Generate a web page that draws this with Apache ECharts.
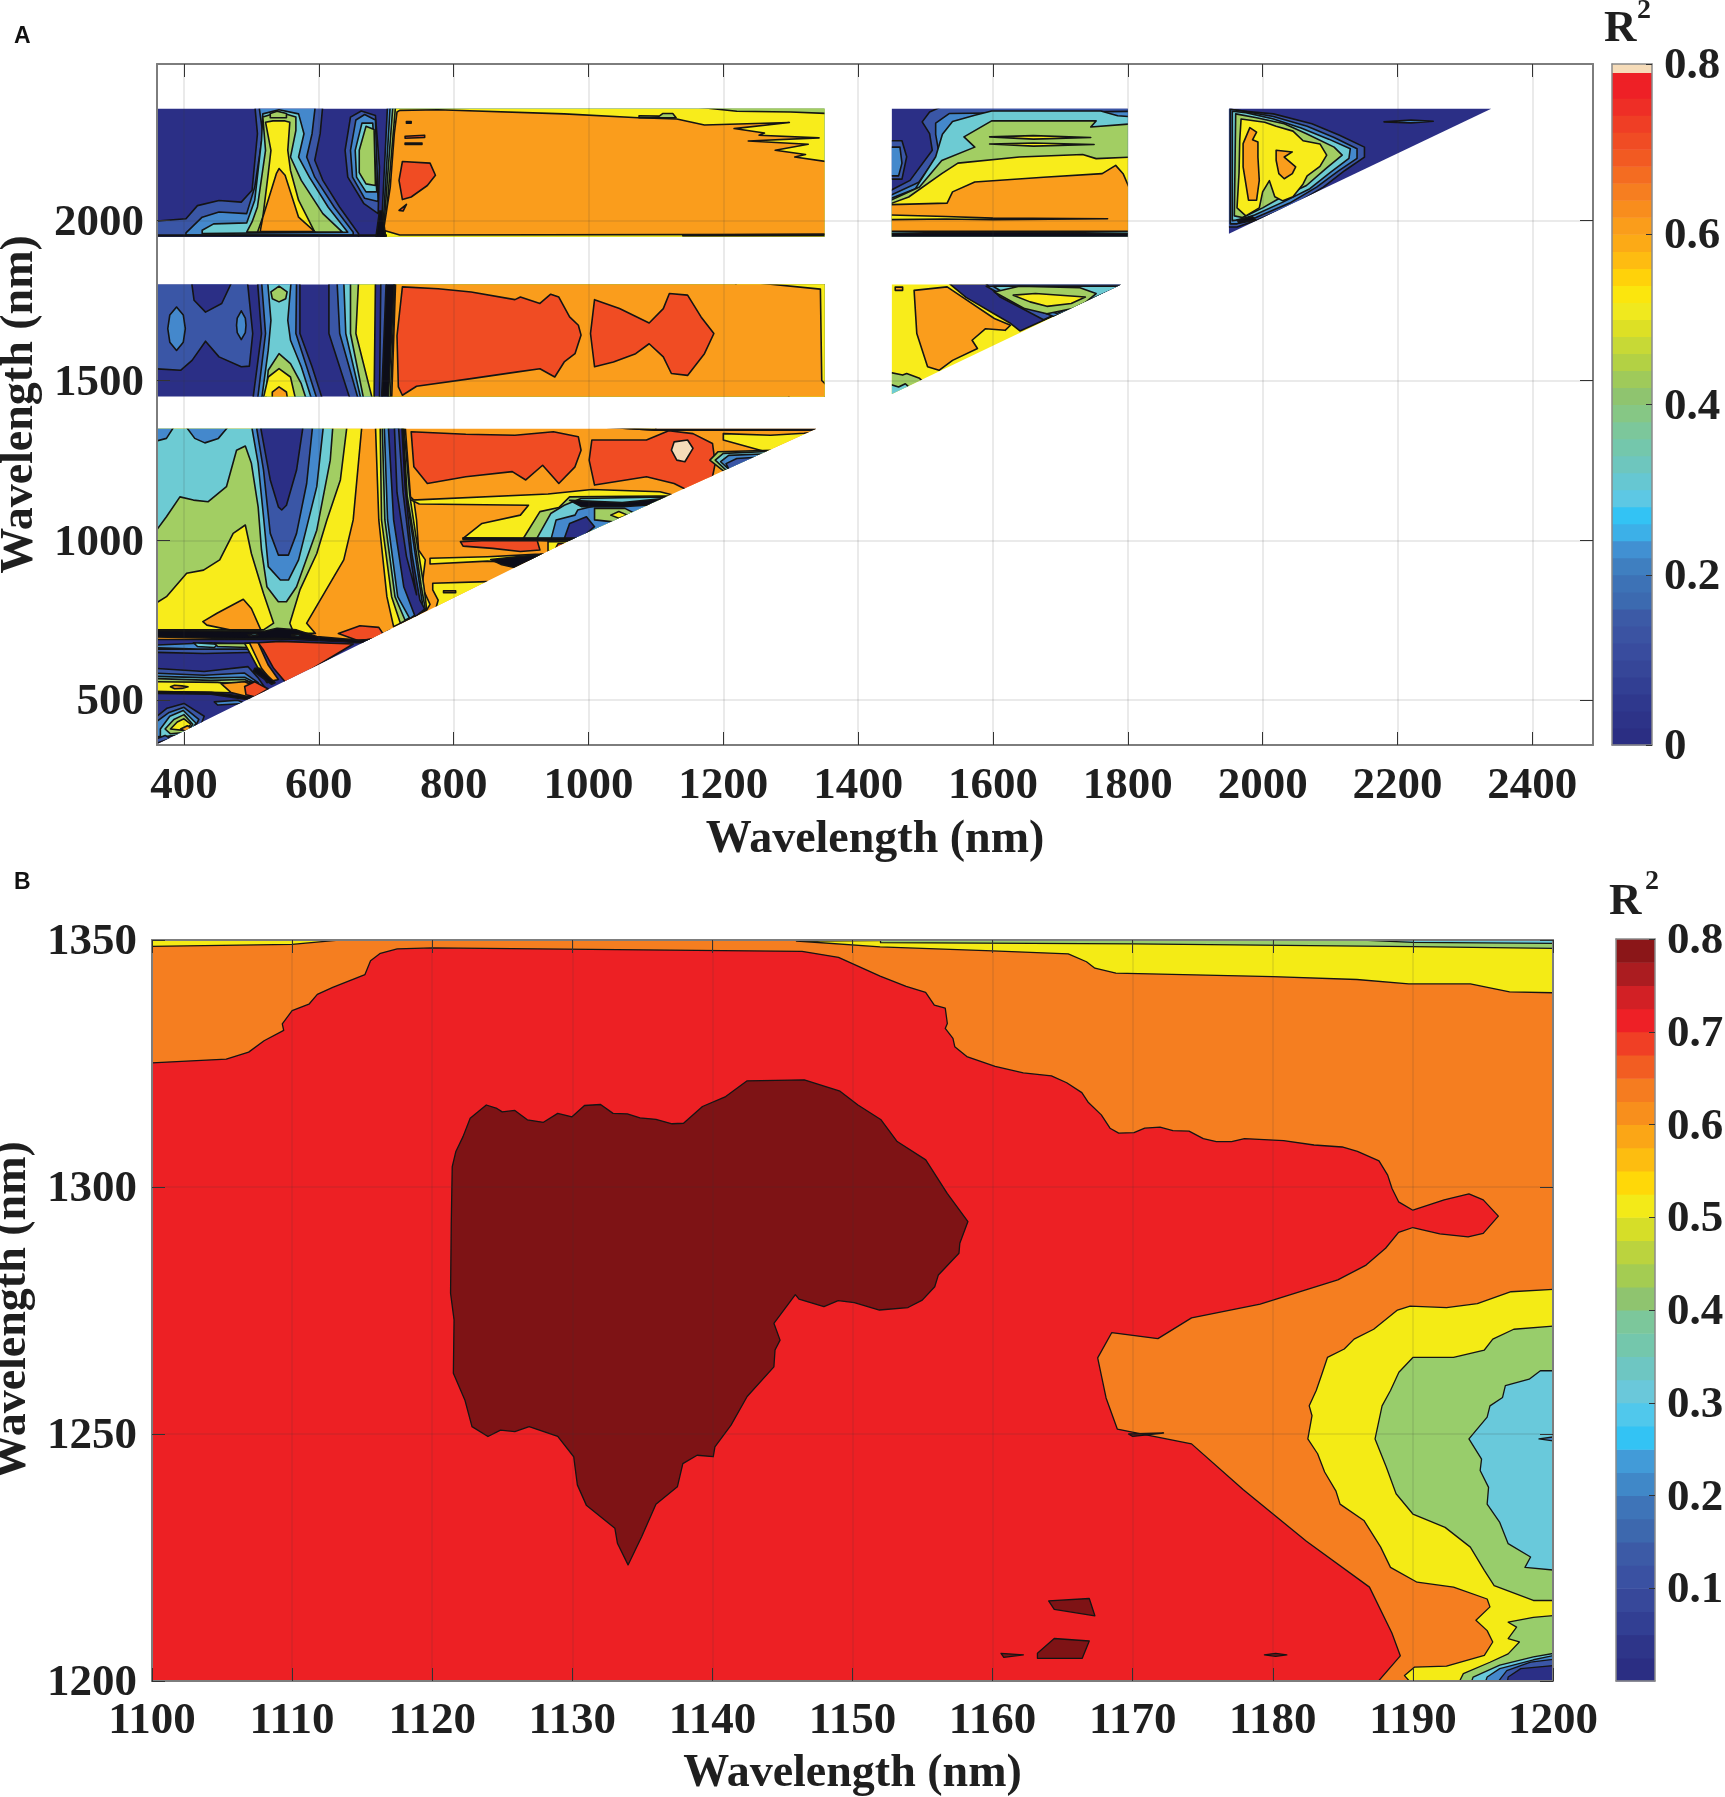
<!DOCTYPE html>
<html>
<head>
<meta charset="UTF-8">
<title>R2 contour maps</title>
<script src="https://cdn.jsdelivr.net/npm/echarts@6/dist/echarts.min.js"></script>
<style>html,body{margin:0;padding:0;background:#fff}</style>
</head>
<body>
<div id="chart" style="width:1725px;height:1797px;"></div>
<script>
// axis ticks
var xTicksA = [400,600,800,1000,1200,1400,1600,1800,2000,2200,2400];
var yTicksA = [500,1000,1500,2000];
var xTicksB = [1100,1110,1120,1130,1140,1150,1160,1170,1180,1190,1200];
var yTicksB = [1200,1250,1300,1350];
var barTicksA = [0,0.2,0.4,0.6,0.8];
var barTicksB = [0.1,0.2,0.3,0.4,0.5,0.6,0.7,0.8];

// colour bars: band edges
var barEdgesA = [0,0.02,0.04,0.06,0.08,0.1,0.12,0.14,0.16,0.18,0.2,0.22,0.24,0.26,0.28,0.3,0.32,0.34,0.36,0.38,0.4,0.42,0.44,0.46,0.48,0.5,0.52,0.54,0.56,0.58,0.6,0.62,0.64,0.66,0.68,0.7,0.72,0.74,0.76,0.78,0.79,0.8];
var barEdgesB = [0,0.025,0.05,0.075,0.1,0.125,0.15,0.175,0.2,0.225,0.25,0.275,0.3,0.325,0.35,0.375,0.4,0.425,0.45,0.475,0.5,0.525,0.55,0.575,0.6,0.625,0.65,0.675,0.7,0.725,0.75,0.775,0.8];
var barColorsA = ['#2B2E83','#2D3388','#2F388D','#323F93','#364698','#394C9E','#3B53A2','#3C5AA6','#3C6AB0','#3D72B6','#3F7FC0','#4190D2','#3CB0E8','#33C3F4','#5DC8E4','#66C7D2','#6EC6BE','#74C7AC','#7CC79B','#86C785','#8FC46F','#9FCA5A','#B3D144','#C7D936','#DDE025','#F0E91E','#FBE60D','#FFD20A','#FEBC11','#FCAA16','#FA9D1B','#F88D1D','#F67E20','#F46C21','#F25A22','#F04C24','#EF3E25','#EE2E26','#EE2026','#EE2026','#F6DCB9'];
var barColorsB = ['#2B2E83','#2E3589','#323F93','#37489A','#3A51A2','#3C5AA6','#3D68AE','#3E74B8','#4088C8','#429BD8','#33C3F4','#50C8EC','#6AC8DA','#6EC6C2','#74C7AC','#7CC79B','#8FC46F','#A4CC52','#BBD33E','#D6DE28','#F3EA18','#FFD808','#FDBD10','#FBA616','#F88F1C','#F57C20','#F25D22','#F03F25','#EE2026','#D22025','#AB1C20','#8B1618'];

// filled contour levels of R2
var fillLevels = [0,0.05,0.13,0.2,0.3,0.4,0.5,0.6,0.7,0.8];
var fillColorsA = ['#0D0D18','#2B2F86','#3A56A6','#4488CC','#6DCBD3','#A2CE63','#F8EC1B','#FA9D1C','#F04C23','#F6DCB9'];
var fillColorsB = ['#0D0D18','#2B2F86','#3A56A6','#4488CC','#69C9DB','#98CD6B','#F4EB15','#F57E20','#ED2024','#7E1315'];

// panel A, x 360-1350, y 1950-2350
var contourTopLeft = [
 [0.05,[[360,1950],[1350,1950],[1350,2350],[360,2350]]],
 [0.13,[[360,1998],[403,2006],[420,2047],[452,2063],[485,2058],[501,2095],[509,2272],[505,2350],[606,2350],[602,2272],[594,2189],[606,2126],[631,2042],[659,1959],[659,1950],[360,1950]]],
 [0.2,[[403,1962],[427,2011],[452,2027],[493,2022],[505,2105],[517,2272],[511,2350],[595,2350],[590,2272],[582,2199],[594,2136],[623,2042],[651,1964],[651,1955],[403,1955]]],
 [0.3,[[427,1970],[444,1990],[493,1993],[505,2064],[515,2251],[517,2334],[541,2347],[570,2334],[578,2272],[570,2199],[586,2136],[614,2042],[643,1964],[427,1960]]],
 [0.4,[[493,1964],[501,1996],[509,2043],[521,2220],[517,2324],[541,2340],[566,2324],[566,2282],[558,2199],[574,2126],[606,2022],[635,1964]]],
 [0.5,[[509,1964],[517,2011],[525,2147],[529,2220],[521,2308],[532,2312],[550,2312],[557,2308],[554,2220],[558,2157],[570,2064],[594,1964]]],
 [0.6,[[513,1966],[517,2011],[537,2147],[541,2163],[550,2142],[570,2011],[594,1966]]],
 [0.4,[[528,2335],[538,2342],[552,2335],[552,2322],[528,2322]]],
 [0.13,[[639,2220],[647,2324],[663,2343],[684,2329],[690,2168],[688,2022],[667,2053],[643,2136]]],
 [0.2,[[647,2220],[655,2315],[668,2332],[684,2315],[688,2060],[668,2070],[650,2136]]],
 [0.3,[[654,2220],[664,2305],[680,2305],[686,2090],[670,2090],[656,2136]]],
 [0.4,[[660,2220],[670,2295],[682,2285],[684,2110],[670,2115],[660,2150]]],
 [0.2,[[702,2350],[692,1950],[1350,1950],[1350,2350]]],
 [0.3,[[706,2350],[694,1950],[1350,1950],[1350,2350]]],
 [0.4,[[710,2350],[695,1950],[1350,1950],[1350,2350]]],
 [0.5,[[714,2350],[697,1950],[1350,1950],[1350,2350]]],
 [0.4,[[1130,2350],[1220,2342],[1300,2340],[1350,2335],[1350,2350]]],
 [0.6,[[720,2345],[777,2347],[964,2334],[1074,2322],[1131,2318],[1172,2299],[1298,2307],[1216,2288],[1261,2274],[1253,2267],[1342,2259],[1237,2249],[1326,2239],[1277,2220],[1322,2207],[1306,2199],[1350,2184],[1350,1957],[720,1955],[696,1970],[706,2105],[712,2272],[716,2340]]],
 [0.4,[[1075,2328],[1105,2327],[1110,2335],[1125,2335],[1130,2322],[1075,2322]]],
 [0.4,[[1140,1955],[1350,1957],[1350,1953],[1140,1952]]],
 [0.7,[[724,2185],[765,2180],[773,2142],[761,2110],[737,2074],[724,2066],[719,2126]]],
 [0.7,[[719,2032],[730,2051],[725,2030]]],
 [0.7,[[728,2264],[757,2267],[757,2260],[728,2258]]],
 [0.7,[[728,2243],[753,2243],[753,2238],[728,2238]]],
 [0.7,[[730,2310],[737,2310],[737,2305],[730,2305]]],
 [0,[[360,1955],[700,1955],[700,1950],[360,1950]]],
 [0,[[690,2030],[694,2030],[700,1950],[684,1950]]]
];

// panel A, x 360-1350, y 1450-1800
var contourMidLeft = [
 [0.05,[[360,1450],[1350,1450],[1350,1800],[360,1800]]],
 [0.13,[[360,1800],[494,1800],[502,1647],[497,1545],[485,1543],[452,1574],[432,1623],[412,1563],[395,1532],[360,1537]]],
 [0.05,[[411,1800],[472,1800],[456,1741],[432,1714],[415,1751]]],
 [0.2,[[389,1730],[399,1705],[402,1662],[399,1620],[389,1594],[379,1620],[376,1662],[379,1705]]],
 [0.2,[[485,1718],[491,1695],[492,1673],[491,1650],[485,1628],[479,1650],[478,1673],[479,1695]]],
 [0.13,[[509,1800],[572,1800],[572,1647],[590,1543],[606,1450],[502,1450],[515,1647]]],
 [0.2,[[515,1800],[567,1800],[566,1647],[582,1543],[598,1450],[509,1450],[521,1647]]],
 [0.3,[[524,1800],[559,1800],[554,1688],[558,1626],[574,1543],[590,1450],[515,1450],[525,1595],[529,1688]]],
 [0.4,[[541,1795],[553,1777],[551,1756],[541,1746],[531,1756],[529,1777]]],
 [0.4,[[541,1584],[558,1553],[574,1490],[582,1450],[521,1450],[525,1532]]],
 [0.5,[[541,1537],[558,1511],[566,1450],[517,1450],[525,1511]]],
 [0.6,[[541,1480],[552,1464],[554,1450],[531,1450],[531,1464]]],
 [0.13,[[615,1800],[615,1647],[647,1450],[1350,1450],[1350,1800]]],
 [0.2,[[627,1800],[631,1647],[659,1450],[1350,1450],[1350,1800]]],
 [0.3,[[637,1800],[640,1647],[663,1450],[1350,1450],[1350,1800]]],
 [0.4,[[647,1800],[647,1647],[667,1450],[1350,1450],[1350,1800]]],
 [0.5,[[659,1800],[655,1647],[680,1450],[1350,1450],[1350,1800]]],
 [0.05,[[684,1800],[682,1450],[1350,1450],[1350,1800]]],
 [0.13,[[692,1800],[690,1450],[1350,1450],[1350,1800]]],
 [0,[[700,1800],[693,1450],[1350,1450],[1350,1800]]],
 [0.4,[[712,1800],[703,1450],[1350,1450],[1350,1800]]],
 [0.5,[[713,1800],[706,1450],[1350,1450],[1350,1800]]],
 [0.5,[[1216,1800],[1350,1800],[1350,1450],[1300,1450]]],
 [0.6,[[714,1800],[1216,1800],[1344,1786],[1346,1500],[1350,1480],[1350,1450],[708,1450]]],
 [0.7,[[724,1793],[777,1787],[826,1777],[891,1753],[899,1761],[928,1741],[944,1770],[956,1761],[972,1699],[985,1673],[989,1642],[980,1584],[964,1558],[950,1511],[928,1537],[895,1527],[826,1506],[745,1482],[724,1454],[718,1480],[716,1640]]],
 [0.7,[[1009,1753],[1046,1725],[1090,1680],[1111,1725],[1120,1772],[1147,1767],[1167,1699],[1186,1647],[1172,1584],[1147,1516],[1123,1522],[1111,1574],[1090,1615],[1070,1584],[1037,1558],[1009,1543],[1003,1647]]]
];

// panel A, triangle x 360-1350, y 360-1350
var contourLowLeft = [
 [0.05,[[360,360],[1350,360],[1350,720],[360,720]]],
 [0.6,[[360,690],[1350,690],[1350,1349],[360,1349]]],
 [0.5,[[360,709],[360,1349],[664,1349],[651,1064],[637,939],[582,741],[595,709]]],
 [0.4,[[360,715],[360,1349],[642,1349],[632,1189],[612,1064],[597,959],[572,845],[557,741],[562,715]]],
 [0.3,[[360,1017],[374,1074],[394,1136],[414,1126],[436,1121],[463,1168],[478,1282],[491,1295],[500,1241],[510,1105],[515,970],[523,855],[540,808],[552,808],[567,855],[597,1032],[617,1251],[621,1349],[360,1349]]],
 [0.2,[[360,1308],[374,1319],[387,1349],[360,1349]]],
 [0.2,[[401,1349],[416,1319],[431,1305],[451,1319],[468,1349]]],
 [0.2,[[500,1349],[510,1241],[518,1074],[525,918],[543,876],[555,876],[570,939],[597,1168],[607,1349]]],
 [0.13,[[507,1349],[518,1220],[528,1022],[540,954],[555,954],[567,1022],[582,1178],[591,1349]]],
 [0.05,[[513,1349],[528,1189],[540,1105],[545,1095],[552,1110],[567,1220],[577,1349]]],
 [0.5,[[360,798],[374,824],[404,897],[429,907],[453,939],[473,1022],[491,1048],[500,959],[518,834],[533,741],[518,720],[360,720]]],
 [0.6,[[428,746],[449,772],[488,816],[500,787],[514,720],[468,720],[434,735]]],
 [0.5,[[684,1349],[689,1064],[701,824],[711,730],[728,748],[760,782],[765,800],[753,855],[758,939],[748,970],[745,1064],[741,1126],[736,1136],[728,1349]]],
 [0.4,[[691,1349],[693,1064],[708,824],[721,741],[760,785],[756,855],[745,1000],[735,1140],[726,1349]]],
 [0.3,[[694,1349],[698,1064],[713,824],[728,750],[758,785],[752,855],[742,1000],[731,1140],[725,1349]]],
 [0.2,[[697,1349],[702,1064],[717,824],[735,755],[755,785],[750,855],[740,1000],[730,1140],[724,1349]]],
 [0.05,[[703,1349],[711,1064],[726,855],[743,761],[757,785],[750,813],[738,959],[728,1168],[723,1349]]],
 [0.13,[[712,1349],[716,1150],[730,950],[745,830],[738,920],[725,1150],[718,1349]]],
 [0.7,[[737,1340],[818,1332],[891,1329],[948,1340],[985,1324],[989,1282],[980,1230],[956,1178],[932,1235],[907,1189],[887,1215],[818,1199],[761,1178],[741,1230]]],
 [0.7,[[1005,1314],[1086,1314],[1119,1343],[1155,1334],[1184,1303],[1188,1241],[1184,1199],[1147,1157],[1127,1178],[1086,1199],[1009,1173],[1001,1251]]],
 [0.8,[[1127,1308],[1147,1314],[1155,1288],[1143,1246],[1131,1251],[1123,1282]]],
 [0.5,[[965,1349],[1100,1345],[1100,1349]]],
 [0,[[965,1349],[1340,1349],[1340,1345],[1100,1345]]],
 [0.5,[[1200,1334],[1270,1329],[1320,1335],[1340,1340],[1310,1260],[1275,1270],[1200,1314]]],
 [0.4,[[1180,1251],[1192,1277],[1273,1282],[1208,1204]]],
 [0.3,[[1188,1251],[1200,1272],[1266,1278],[1212,1204]]],
 [0.2,[[1196,1246],[1208,1266],[1258,1270],[1212,1215]]],
 [0.13,[[1204,1240],[1220,1256],[1250,1260],[1210,1215]]],
 [0.5,[[737,1126],[940,1145],[1005,1159],[1106,1152],[1131,1139],[980,996],[814,1006],[842,1053],[899,1079],[911,1110],[749,1114]]],
 [0.4,[[903,1005],[928,1090],[956,1103],[972,1136],[1102,1139],[1131,1139],[985,1000]]],
 [0.3,[[923,1005],[944,1084],[964,1110],[989,1131],[1114,1136],[1120,1125],[985,1000]]],
 [0.2,[[944,1000],[952,1064],[980,1079],[984,1095],[1013,1110],[1080,1120],[1100,1090],[985,998]]],
 [0.05,[[964,1005],[972,1053],[997,1074],[1009,1043],[985,1000]]],
 [0,[[972,1125],[1050,1118],[1130,1135],[1120,1115],[1050,1105],[990,1105]]],
 [0.4,[[1009,1100],[1054,1100],[1074,1079],[1037,1058],[1009,1064]]],
 [0.5,[[1033,1079],[1045,1090],[1058,1079],[1045,1069]]],
 [0,[[814,1008],[985,1007],[985,1000],[814,1002]]],
 [0.7,[[810,996],[842,999],[924,999],[928,970],[899,965],[858,975],[814,982]]],
 [0.5,[[940,996],[980,996],[955,965],[940,965]]],
 [0.7,[[955,990],[965,990],[955,965],[950,970]]],
 [0.5,[[765,944],[850,949],[928,957],[940,959],[900,930],[850,935],[765,926]]],
 [0,[[855,940],[900,950],[930,955],[890,915],[870,925]]],
 [0.5,[[769,866],[850,871],[860,862],[800,790],[773,782],[777,813],[769,845]]],
 [0.6,[[785,842],[803,842],[803,836],[785,836]]],
 [0.7,[[629,709],[661,733],[689,728],[698,699],[660,685]]],
 [0,[[360,718],[518,715],[538,725],[567,720],[597,699],[627,694],[656,688],[680,690],[690,680],[656,680],[637,683],[587,688],[538,694],[493,692],[360,698]]],
 [0.3,[[495,705],[507,709],[510,703],[498,701]]],
 [0.3,[[560,705],[572,707],[572,701],[560,701]]],
 [0.13,[[360,660],[510,660],[510,650],[430,646],[360,650]]],
 [0.2,[[360,672],[440,680],[500,672],[500,660],[420,660],[360,664]]],
 [0.3,[[414,680],[450,675],[445,665],[420,668]]],
 [0.4,[[445,678],[495,678],[495,665],[450,668]]],
 [0.13,[[360,600],[430,590],[495,605],[510,570],[520,540],[360,540]]],
 [0.2,[[360,585],[430,578],[490,585],[510,555],[360,540]]],
 [0.3,[[360,575],[440,570],[490,572],[505,555],[360,545]]],
 [0.4,[[360,568],[440,562],[490,565],[500,555],[360,548]]],
 [0.5,[[360,558],[450,556],[465,552],[495,558],[520,540],[500,522],[440,525],[360,527]]],
 [0.6,[[386,547],[397,545],[406,542],[397,537],[386,536],[380,542]]],
 [0.6,[[455,552],[490,558],[520,530],[495,511],[470,524]]],
 [0.7,[[490,543],[505,558],[525,535],[505,511],[492,517]]],
 [0,[[360,527],[440,525],[495,510],[505,505],[490,503],[440,519],[360,521]]],
 [0.5,[[490,678],[505,680],[520,610],[538,565],[523,555],[510,600]]],
 [0.6,[[497,680],[510,680],[525,610],[540,565],[530,560],[515,600]]],
 [0,[[505,600],[512,600],[535,555],[530,550],[503,590]]],
 [0.7,[[510,680],[543,684],[651,676],[560,560],[550,558],[533,600],[518,657]]],
 [0.13,[[360,440],[375,475],[400,490],[430,450],[420,395],[360,390]]],
 [0.2,[[360,425],[378,462],[400,478],[422,440],[412,395],[360,385]]],
 [0.3,[[365,410],[379,450],[399,468],[418,428],[407,395],[365,385]]],
 [0.4,[[372,410],[385,440],[400,455],[413,425],[405,400],[380,395]]],
 [0.5,[[380,410],[390,432],[400,442],[410,425],[402,405]]],
 [0.6,[[395,410],[405,420],[412,412],[405,400]]],
 [0.13,[[360,375],[372,390],[380,380],[360,362]]],
 [0.2,[[450,485],[490,490],[480,500],[445,495]]]
];

// panel A, x 1450-1800, y 1950-2350
var contourTopMid = [
 [0.05,[[1450,1950],[1800,1950],[1800,2350],[1450,2350]]],
 [0.13,[[1450,2250],[1465,2250],[1472,2200],[1465,2130],[1450,2130]]],
 [0.2,[[1450,2230],[1462,2230],[1465,2180],[1460,2140],[1450,2140]]],
 [0.13,[[1450,2090],[1477,2126],[1510,2220],[1506,2272],[1495,2309],[1506,2340],[1530,2350],[1800,2350],[1800,1950],[1450,1950]]],
 [0.2,[[1450,2075],[1490,2120],[1520,2210],[1515,2270],[1515,2305],[1535,2335],[1800,2342],[1800,1950],[1450,1950]]],
 [0.3,[[1450,2066],[1485,2100],[1515,2200],[1525,2270],[1540,2310],[1573,2330],[1598,2343],[1760,2343],[1785,2328],[1800,2325],[1800,1950],[1450,1950]]],
 [0.4,[[1450,2060],[1491,2105],[1524,2188],[1573,2230],[1557,2262],[1598,2312],[1753,2312],[1745,2293],[1800,2303],[1800,1950],[1450,1950]]],
 [0.5,[[1595,2262],[1660,2266],[1745,2260],[1660,2255]]],
 [0.5,[[1595,2240],[1660,2243],[1750,2238],[1660,2233]]],
 [0.5,[[1450,2050],[1475,2074],[1524,2147],[1548,2180],[1639,2199],[1733,2207],[1753,2194],[1800,2199],[1800,1950],[1450,1950]]],
 [0.6,[[1450,2050],[1532,2055],[1540,2090],[1573,2121],[1675,2136],[1762,2147],[1782,2173],[1793,2147],[1800,2084],[1800,1950],[1450,1950]]],
 [0.5,[[1450,2018],[1530,2013],[1600,2008],[1770,2006],[1600,2003],[1530,2005],[1450,2003]]],
 [0.3,[[1450,1967],[1800,1967],[1800,1950],[1450,1950]]],
 [0,[[1450,1960],[1600,1965],[1800,1960],[1800,1950],[1450,1950]]]
];

// panel A, triangle x 1450-1800, y 1450-1800
var contourMidMid = [
 [0.5,[[1450,1450],[1800,1450],[1800,1800],[1450,1800]]],
 [0.6,[[1483,1782],[1532,1793],[1602,1694],[1626,1673],[1618,1657],[1589,1662],[1569,1626],[1577,1600],[1540,1563],[1520,1532],[1503,1543],[1487,1647]]],
 [0.6,[[1455,1792],[1466,1792],[1466,1782],[1455,1782]]],
 [0.05,[[1530,1800],[1800,1800],[1640,1655],[1625,1680],[1560,1760]]],
 [0.13,[[1585,1800],[1800,1800],[1675,1690],[1610,1762]]],
 [0.2,[[1590,1795],[1630,1750],[1690,1700],[1800,1795]]],
 [0.3,[[1600,1795],[1640,1745],[1695,1710],[1790,1795]]],
 [0.4,[[1602,1777],[1647,1725],[1680,1709],[1729,1730],[1753,1772],[1729,1790],[1639,1795]]],
 [0.5,[[1630,1767],[1663,1772],[1737,1761],[1716,1741],[1680,1732],[1655,1746]]],
 [0.4,[[1450,1527],[1466,1517],[1472,1522],[1491,1507],[1500,1490],[1450,1450]]],
 [0.3,[[1450,1490],[1460,1480],[1470,1490],[1475,1480],[1450,1450]]]
];

// panel A, triangle x 1950-2340, y 1950-2350
var contourTopRight = [
 [0.05,[[1950,1950],[2340,1950],[2340,2350],[1950,2350]]],
 [0.2,[[2180,2309],[2220,2315],[2253,2311],[2220,2306]]],
 [0.13,[[1958,2345],[2016,2334],[2073,2303],[2114,2267],[2151,2230],[2151,2199],[2122,2157],[2090,2105],[2049,2053],[1991,2001],[1962,1980],[1950,1980],[1950,2350]]],
 [0.2,[[1952,2348],[1965,2345],[2016,2326],[2066,2295],[2106,2260],[2140,2225],[2140,2195],[2112,2155],[2080,2105],[2040,2055],[1990,2010],[1962,1990],[1952,1990]]],
 [0.3,[[1955,2342],[1975,2338],[2016,2318],[2057,2290],[2098,2255],[2130,2225],[2128,2195],[2100,2150],[2070,2100],[2030,2058],[1988,2018],[1965,2003],[1955,2000]]],
 [0.4,[[1960,2334],[1991,2322],[2032,2303],[2065,2272],[2106,2230],[2118,2205],[2095,2165],[2065,2110],[2025,2070],[2000,2040],[1985,2025],[1970,2010],[1958,2015]]],
 [0.5,[[1968,2318],[2003,2308],[2020,2295],[2045,2280],[2060,2250],[2085,2240],[2095,2205],[2085,2170],[2066,2140],[2060,2115],[2045,2075],[2030,2062],[2018,2075],[2010,2125],[2000,2090],[1995,2040],[1975,2015],[1962,2040],[1965,2150],[1966,2250]]],
 [0.6,[[1981,2291],[1991,2277],[1985,2253],[1993,2246],[1993,2199],[1995,2126],[1991,2064],[1979,2064],[1971,2168],[1971,2241]]],
 [0.6,[[2020,2220],[2044,2215],[2032,2199],[2049,2168],[2044,2147],[2032,2131],[2024,2147],[2020,2189]]],
 [0,[[1962,2003],[1985,2012],[1990,2002],[1965,1992]]]
];

// panel B, x 1100-1200, y 1200-1350
var contourPanelB = [
 [0.6,[[1100,1200],[1200,1200],[1200,1350],[1100,1350]]],
 [0.5,[[1100,1350],[1116.5,1350],[1110,1349.1],[1100,1348.7]]],
 [0.5,[[1146,1349.8],[1151.97,1348.6],[1160,1347.8],[1165.4,1347.2],[1166.7,1345.6],[1167.3,1344.3],[1168.8,1343.3],[1180,1342.6],[1186,1342],[1189.7,1341.1],[1194.1,1341.1],[1196.9,1339.5],[1200,1339.3],[1200,1350]]],
 [0.4,[[1152,1350],[1200,1350],[1200,1348.3],[1190,1348.65],[1170,1349.2],[1152,1349.45]]],
 [0.3,[[1180,1350],[1200,1350],[1200,1349.3],[1190,1349.5]]],
 [0.7,[[1100,1325.1],[1105.3,1325.9],[1106.9,1327.3],[1108,1329.6],[1109.4,1331.7],[1109.3,1333],[1110,1335.7],[1111.2,1337],[1111.8,1339],[1112.9,1340.4],[1115.2,1343],[1115.6,1345.8],[1116.3,1347.3],[1117.5,1348.2],[1120,1348.4],[1146.4,1347.7],[1149,1346.5],[1151.97,1342.7],[1153.83,1340.6],[1155.22,1339.4],[1155.84,1336.8],[1156.62,1336.2],[1156.77,1333.1],[1156.62,1332.1],[1157.17,1330.1],[1157.3,1328.4],[1158.16,1326.4],[1160.18,1324.4],[1162.19,1323.1],[1164.2,1322.5],[1165.29,1321.1],[1166.37,1319.1],[1166.84,1317.1],[1167.76,1314.6],[1168.38,1311.9],[1169,1310.9],[1170.09,1311],[1170.86,1311.9],[1171.95,1312.1],[1172.87,1311.4],[1174.02,1311.3],[1175.04,1309.8],[1175.97,1309.2],[1177.06,1309.2],[1177.98,1309.8],[1180.77,1309.4],[1182.94,1308.5],[1184.95,1308.1],[1186.04,1307.2],[1187.58,1305.3],[1188.2,1302.4],[1188.51,1299.7],[1188.98,1297],[1190,1295.3],[1192.23,1297.4],[1194,1298.6],[1195.02,1297.4],[1196.1,1294.1],[1195.02,1290.6],[1193.94,1289.9],[1191.92,1290.5],[1190,1291.8],[1188.98,1290.8],[1188.05,1287.6],[1186.66,1284.2],[1184.64,1281.2],[1179.1,1276.3],[1174.2,1273.5],[1171.8,1269.3],[1168.5,1270.5],[1167.5,1265.4],[1168.1,1257.3],[1168.9,1251],[1174.2,1248],[1177.9,1238.7],[1182.4,1228.3],[1186.9,1219],[1188.5,1209.7],[1189.1,1205.1],[1187.3,1200],[1100,1200]]],
 [0.8,[[1121.43,1304.1],[1121.69,1307.2],[1122.2,1310.2],[1122.71,1313.9],[1123.86,1316.6],[1124.62,1315.9],[1125,1315.2],[1125.9,1315.5],[1126.79,1313.6],[1127.94,1313.1],[1128.96,1314.9],[1129.98,1314.2],[1130.87,1316.5],[1132.02,1316.7],[1132.91,1314.9],[1133.93,1314.8],[1134.83,1314],[1135.97,1313.7],[1137.12,1312.8],[1137.94,1312.9],[1139.29,1316.3],[1140.95,1318.3],[1142.48,1321.5],[1146.56,1321.7],[1149.11,1319.4],[1150.39,1316.6],[1152.04,1313.6],[1153.19,1309.2],[1155.23,1305.5],[1156.76,1298.7],[1158.24,1293],[1157.66,1288.6],[1157.6,1286.6],[1156.13,1282.2],[1155.87,1279.8],[1154.98,1277.1],[1153.96,1275.6],[1151.92,1275.1],[1150.13,1276.6],[1148.98,1277],[1147.96,1275.8],[1146.18,1277.3],[1145.92,1278.2],[1144.39,1272.4],[1144.83,1269],[1144.47,1267],[1144.39,1263.6],[1142.48,1257.6],[1141.33,1251.8],[1140.18,1247.4],[1140.06,1245.4],[1138.91,1245.7],[1137.89,1244],[1137.5,1239.3],[1135.97,1235.8],[1134.95,1229.2],[1133.98,1223.5],[1133.22,1227.9],[1133.04,1230.9],[1131,1235.6],[1130.36,1239.7],[1130.1,1245.4],[1128.96,1249.5],[1126.92,1251.5],[1125.9,1250.5],[1124.88,1250.8],[1123.98,1249.5],[1122.84,1251.5],[1122.33,1256.9],[1121.51,1262.3],[1121.56,1273.1],[1121.31,1278.5],[1121.36,1292.6]]],
 [0.8,[[1164,1216.2],[1166.9,1216.7],[1167.3,1213.2],[1164.4,1214.5]]],
 [0.8,[[1163.2,1205.6],[1164.4,1208.6],[1166.9,1208.1],[1166.4,1204.6],[1163.2,1204.6]]],
 [0.8,[[1160.6,1205.6],[1162.2,1205.3],[1160.8,1204.8]]],
 [0.8,[[1179.4,1205.3],[1180.2,1205.6],[1181,1205.3],[1180.2,1205]]],
 [0.8,[[1169.7,1250],[1172.2,1250.2],[1170,1249.5]]],
 [0.5,[[1200,1279.3],[1197,1278.8],[1194.6,1276.4],[1192.4,1275.6],[1189.8,1275.9],[1188.9,1275.1],[1187.2,1271.2],[1185.8,1269.2],[1185.1,1267.2],[1183.9,1265.5],[1183.5,1262.1],[1183.1,1258.8],[1182.6,1255.7],[1182.8,1253.7],[1182.5,1249],[1183.2,1246],[1183.7,1242.3],[1184.5,1238.5],[1184.8,1235.8],[1186.5,1232.5],[1187.7,1227.1],[1188.4,1223],[1190.3,1220],[1192.9,1219],[1195.3,1216.6],[1195.5,1215],[1194.5,1212.3],[1195.3,1210.2],[1195.7,1207.9],[1195.1,1205.2],[1192.4,1203],[1190.1,1202.8],[1189.4,1201.1],[1190,1200],[1200,1200]]],
 [0.4,[[1200,1271.9],[1197.2,1271.2],[1195.7,1269.2],[1195.1,1267],[1192.9,1265.5],[1190,1265.5],[1189,1262.5],[1188.4,1258.8],[1187.8,1255.7],[1187.3,1249],[1188.1,1243.3],[1188.8,1237.9],[1190,1233.8],[1192.3,1231.1],[1194.1,1227.1],[1195.1,1222.4],[1195.8,1219.3],[1198.6,1216.3],[1200,1216.3]]],
 [0.3,[[1200,1262.8],[1199.1,1262.8],[1198.3,1261.1],[1196.6,1259.8],[1196.4,1257.4],[1195.5,1255.7],[1195.3,1253.4],[1194,1249],[1194.9,1244.9],[1194.8,1242.6],[1195.4,1239.2],[1195.3,1235.8],[1196.2,1232.1],[1196.8,1227.8],[1198.4,1225.1],[1198,1223],[1200,1222.4]]],
 [0.2,[[1199,1249],[1200,1249.5],[1200,1248.5]]],
 [0.4,[[1200,1213.3],[1198.6,1212.9],[1196.8,1211.9],[1197.4,1210.9],[1196.8,1208.6],[1197.6,1207.9],[1196.8,1205.5],[1195.5,1203.8],[1193.6,1201.5],[1193.2,1200],[1200,1200]]],
 [0.3,[[1200,1205.7],[1198.6,1204.9],[1196.2,1203.2],[1194.3,1200.8],[1194.1,1200],[1200,1200]]],
 [0.2,[[1200,1205.3],[1198.6,1204.3],[1196.2,1202.5],[1195.3,1200.8],[1195.1,1200],[1200,1200]]],
 [0.13,[[1200,1204.5],[1198.4,1203.8],[1196.7,1202.1],[1195.9,1200],[1200,1200]]],
 [0.05,[[1200,1203.2],[1197.7,1202.5],[1196.8,1200.8],[1196.7,1200],[1200,1200]]]
];

// outlines of the computed wavelength blocks
var outlineTopLeft = [[360,1950],[1350,1950],[1350,2350],[360,2350]];
var outlineMidLeft = [[360,1450],[1350,1450],[1350,1800],[360,1800]];
var outlineLowLeft = [[360,362],[600,612],[972,1000],[1338,1349],[360,1349]];
var outlineTopMid = [[1450,1950],[1800,1950],[1800,2350],[1450,2350]];
var outlineMidMid = [[1450,1458],[1790,1800],[1450,1800]];
var outlineTopRight = [[1950,1959],[2339,2350],[1950,2350]];
var outlineB = [[1100,1200],[1200,1200],[1200,1350],[1100,1350]];

var blocksA = [
 {outline: outlineTopLeft, layers: contourTopLeft, box: [360,1350,1950,2350]},
 {outline: outlineMidLeft, layers: contourMidLeft, box: [360,1350,1450,1800]},
 {outline: outlineLowLeft, layers: contourLowLeft, box: [360,1350,360,1349]},
 {outline: outlineTopMid, layers: contourTopMid, box: [1450,1800,1950,2350]},
 {outline: outlineMidMid, layers: contourMidMid, box: [1450,1800,1450,1800]},
 {outline: outlineTopRight, layers: contourTopRight, box: [1950,2340,1950,2350]}
];
var blocksB = [{outline: outlineB, layers: contourPanelB, box: [1100,1200,1200,1350]}];

var serif = '"Liberation Serif"';
var tickColor = '#333';
var spine = {color: '#7d7d7d', width: 2};

function colorOf(level, colors) {
	return colors[fillLevels.indexOf(level)];
}
// 轮廓线不要画在块的外边上
function place(p, box, api) {
	var c = api.coord(p);
	if (p[0] <= box[0]) c[0] -= 4;
	if (p[0] >= box[1]) c[0] += 4;
	if (p[1] <= box[2]) c[1] += 4;
	if (p[1] >= box[3]) c[1] -= 4;
	return c;
}
function contourSeries(blocks, colors, xi, yi, lineWidth) {
	return {
		type: 'custom',
		xAxisIndex: xi,
		yAxisIndex: yi,
		data: blocks.map(function (b, i) { return [i, i]; }),
		silent: true,
		renderItem: function (params, api) {
			var b = blocks[params.dataIndex];
			var kids = b.layers.map(function (l) {
				return {
					type: 'polygon',
					shape: {points: l[1].map(function (p) { return place(p, b.box, api); })},
					style: {fill: colorOf(l[0], colors), stroke: '#141414', lineWidth: lineWidth, lineJoin: 'round'}
				};
			});
			return {
				type: 'group',
				children: kids,
				clipPath: {type: 'polygon', shape: {points: b.outline.map(function (p) { return api.coord(p); })}}
			};
		}
	};
}
function barSeries(edges, colors, xi, yi) {
	return {
		type: 'custom',
		xAxisIndex: xi,
		yAxisIndex: yi,
		data: colors.map(function (c, i) { return [0, edges[i]]; }),
		silent: true,
		renderItem: function (params, api) {
			var i = params.dataIndex;
			var a = api.coord([0, edges[i]]);
			var b = api.coord([1, edges[i + 1]]);
			return {
				type: 'rect',
				shape: {x: a[0], y: b[1], width: b[0] - a[0], height: a[1] - b[1] + 0.6},
				style: {fill: colors[i]}
			};
		}
	};
}
function plainNumber(v) {
	return String(v);
}
function tickLabelStyle(ticks, margin) {
	return {customValues: ticks, formatter: plainNumber, fontFamily: serif, fontWeight: 'bold', fontSize: 45, color: '#1f1f1f', margin: margin, showMinLabel: true, showMaxLabel: true};
}
// 纵轴数字比默认位置略低
function sideLabelStyle(ticks, margin) {
	return Object.assign(tickLabelStyle(ticks, margin), {verticalAlign: 'top', lineHeight: 5});
}
function plotAxes(gi, xr, yr, xt, yt, xMargin, yMargin, xGap, yGap) {
	var tick = function (t) {
		return {show: true, inside: true, length: 13, customValues: t, lineStyle: {color: tickColor, width: 1}};
	};
	var common = {gridIndex: gi, type: 'value', z: 5, axisLine: {show: true, onZero: false, lineStyle: spine}};
	var grid = {show: true, lineStyle: {color: 'rgba(60,60,60,0.14)', width: 1.5}};
	var nameStyle = {fontFamily: serif, fontWeight: 'bold', fontSize: 46, color: '#1f1f1f'};
	return {
		x: [
			Object.assign({}, common, {min: xr[0], max: xr[1], position: 'bottom', axisTick: tick(xt), axisLabel: tickLabelStyle(xt, xMargin), splitLine: grid,
				name: 'Wavelength (nm)', nameLocation: 'middle', nameGap: xGap, nameTextStyle: nameStyle}),
			Object.assign({}, common, {min: xr[0], max: xr[1], position: 'top', axisTick: tick(xt), axisLabel: {show: false}, splitLine: {show: false}})
		],
		y: [
			Object.assign({}, common, {min: yr[0], max: yr[1], position: 'left', axisTick: tick(yt), axisLabel: sideLabelStyle(yt, yMargin), splitLine: grid,
				name: 'Wavelength (nm)', nameLocation: 'middle', nameGap: yGap, nameTextStyle: nameStyle}),
			Object.assign({}, common, {min: yr[0], max: yr[1], position: 'right', axisTick: tick(yt), axisLabel: {show: false}, splitLine: {show: false}})
		]
	};
}
function barAxes(gi, ticks) {
	var line = {show: true, onZero: false, lineStyle: {color: '#8a8a8a', width: 1.5}};
	return {
		x: [{gridIndex: gi, type: 'value', min: 0, max: 1, z: 5, position: 'bottom', axisLine: line, axisTick: {show: false}, axisLabel: {show: false}, splitLine: {show: false}},
			{gridIndex: gi, type: 'value', min: 0, max: 1, z: 5, position: 'top', axisLine: line, axisTick: {show: false}, axisLabel: {show: false}, splitLine: {show: false}}],
		y: [{gridIndex: gi, type: 'value', min: 0, max: 0.8, z: 5, position: 'right', axisLine: line,
				axisTick: {show: true, inside: true, length: 6, customValues: ticks, lineStyle: {color: tickColor, width: 1}},
				axisLabel: sideLabelStyle(ticks, 12), splitLine: {show: false}},
			{gridIndex: gi, type: 'value', min: 0, max: 0.8, z: 5, position: 'left', axisLine: line, axisTick: {show: false}, axisLabel: {show: false}, splitLine: {show: false}}]
	};
}

var axA = plotAxes(0, [360,2490], [360,2490], xTicksA, yTicksA, 19, 13, 72, 105);
var barA = barAxes(1, barTicksA);
var axB = plotAxes(2, [1100,1200], [1200,1350], xTicksB, yTicksB, 18, 15, 70, 107);
var barB = barAxes(3, barTicksB);

var option = {
	animation: false,
	backgroundColor: '#fff',
	title: [
		{text: 'A', left: 9, top: 20, textStyle: {fontFamily: '"Liberation Sans"', fontWeight: 'bold', fontSize: 23, color: '#111'}},
		{text: 'B', left: 9, top: 866, textStyle: {fontFamily: '"Liberation Sans"', fontWeight: 'bold', fontSize: 23, color: '#111'}},
		{text: 'R', left: 1599, top: 2, textStyle: {fontFamily: serif, fontWeight: 'bold', fontSize: 45, color: '#1f1f1f'}},
		{text: '2', left: 1632, top: -8, textStyle: {fontFamily: serif, fontWeight: 'bold', fontSize: 28, color: '#1f1f1f'}},
		{text: 'R', left: 1604, top: 875, textStyle: {fontFamily: serif, fontWeight: 'bold', fontSize: 45, color: '#1f1f1f'}},
		{text: '2', left: 1640, top: 863, textStyle: {fontFamily: serif, fontWeight: 'bold', fontSize: 28, color: '#1f1f1f'}}
	],
	grid: [
		{left: 157, top: 64, width: 1436, height: 681, outerBoundsMode: 'none'},
		{left: 1612, top: 64, width: 40, height: 681, outerBoundsMode: 'none'},
		{left: 152, top: 940, width: 1401, height: 741, outerBoundsMode: 'none'},
		{left: 1616, top: 939, width: 39, height: 742, outerBoundsMode: 'none'}
	],
	xAxis: axA.x.concat(barA.x, axB.x, barB.x),
	yAxis: axA.y.concat(barA.y, axB.y, barB.y),
	series: [
		contourSeries(blocksA, fillColorsA, 0, 0, 1.6),
		barSeries(barEdgesA, barColorsA, 2, 2),
		contourSeries(blocksB, fillColorsB, 4, 4, 1.3),
		barSeries(barEdgesB, barColorsB, 6, 6)
	]
};
var chart = echarts.init(document.getElementById('chart'));
chart.setOption(option);
</script>
</body>
</html>
